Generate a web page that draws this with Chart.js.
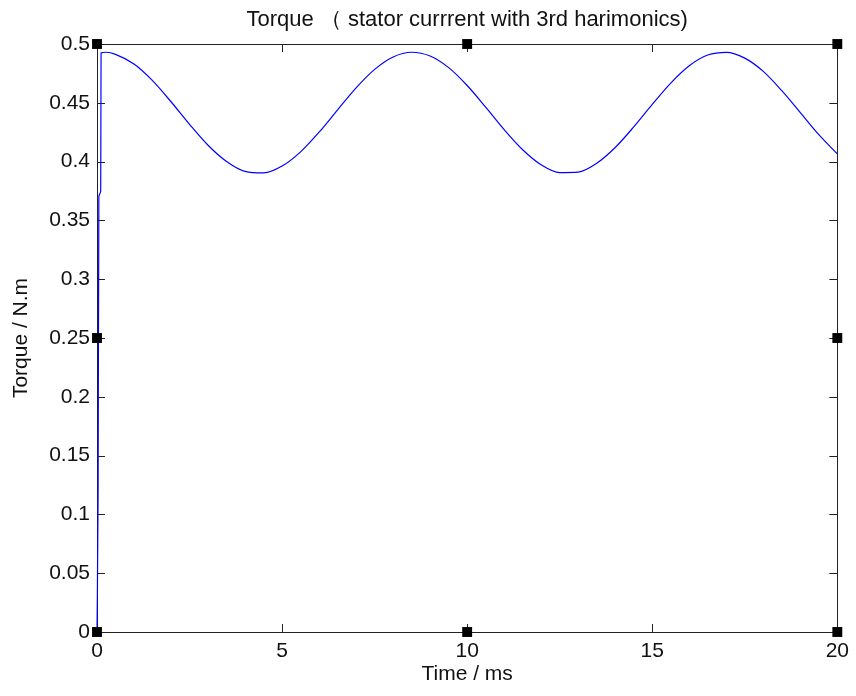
<!DOCTYPE html>
<html>
<head>
<meta charset="utf-8">
<title>Torque</title>
<script src="https://cdn.jsdelivr.net/npm/chart.js@4/dist/chart.umd.min.js"></script>
<style>
    html, body { margin: 0; padding: 0; background: #fff; }
    canvas { display: block; }
</style>
</head>
<body>
<canvas id="torque" width="856" height="696"></canvas>
<script>
'use strict';

// Torque samples: time in ms, torque in N.m
const timeMs = [
    0, 0.03, 0.05, 0.1, 0.11, 0.25, 0.5, 1, 1.5, 2, 2.5, 3, 3.5, 4, 4.5, 5, 5.5, 6, 6.5, 7, 7.5,
    8, 8.5, 9, 9.5, 10, 10.5, 11, 11.5, 12, 12.5, 13, 13.5, 14, 14.5, 15, 15.5, 16, 16.5,
    17, 17.5, 18, 18.5, 19, 19.5, 20
];
const torqueNm = [
    0, 0.12, 0.37, 0.375, 0.4925, 0.4930, 0.4912, 0.4829, 0.4688, 0.4509, 0.4317, 0.4139, 0.4001,
    0.3917, 0.3904, 0.3962, 0.4083, 0.4250, 0.4440, 0.4627, 0.4784, 0.4890, 0.4930, 0.4898,
    0.4799, 0.4647, 0.4463, 0.4272, 0.4101, 0.3973, 0.3907, 0.3911, 0.3986, 0.4120, 0.4295,
    0.4486, 0.4668, 0.4815, 0.4906, 0.4929, 0.4880, 0.4767, 0.4603, 0.4417, 0.4229, 0.4066
];

// axis ticks
const xTicks = [0, 5, 10, 15, 20];
const yTicks = [0, 0.05, 0.1, 0.15, 0.2, 0.25, 0.3, 0.35, 0.4, 0.45, 0.5];

// figure-editor selection handles around the axes
const handleX = [0, 10, 20, 0, 20, 0, 10, 20];
const handleY = [0.5, 0.5, 0.5, 0.25, 0.25, 0, 0, 0];

const FONT = "'Liberation Sans', Arial, sans-serif";
const TICK_LEN = 8;

// box around the plot with inward ticks on all four sides
const axesBox = {
    id: 'axesBox',
    beforeDatasetsDraw(chart) {
        const { ctx, chartArea: a, scales: { x, y } } = chart;
        ctx.save();
        ctx.strokeStyle = '#222';
        ctx.lineWidth = 1;
        ctx.beginPath();
        ctx.rect(Math.round(a.left) + 0.5, Math.round(a.top) + 0.5,
                 Math.round(a.right - a.left), Math.round(a.bottom - a.top));
        x.ticks.forEach(t => {
            const px = Math.round(x.getPixelForValue(t.value)) + 0.5;
            ctx.moveTo(px, a.bottom); ctx.lineTo(px, a.bottom - TICK_LEN);
            ctx.moveTo(px, a.top); ctx.lineTo(px, a.top + TICK_LEN);
        });
        y.ticks.forEach(t => {
            const py = Math.round(y.getPixelForValue(t.value)) + 0.5;
            ctx.moveTo(a.left, py); ctx.lineTo(a.left + TICK_LEN, py);
            ctx.moveTo(a.right, py); ctx.lineTo(a.right - TICK_LEN, py);
        });
        ctx.stroke();
        ctx.restore();
    }
};

Chart.defaults.font.family = FONT;
Chart.defaults.color = '#111';

new Chart(document.getElementById('torque'), {
    type: 'line',
    data: {
        datasets: [
            {
                label: 'Torque',
                data: timeMs.map((t, i) => ({ x: t, y: torqueNm[i] })),
                borderColor: '#0000ff',
                borderWidth: 1.2,
                pointRadius: 0,
                cubicInterpolationMode: 'monotone',
                clip: false,
                order: 2,
            },
            {
                label: 'handles',
                type: 'scatter',
                data: handleX.map((hx, i) => ({ x: hx, y: handleY[i] })),
                pointStyle: 'rect',
                pointRadius: 7,
                pointBackgroundColor: '#000',
                pointBorderWidth: 0,
                clip: false,
                order: 1,
            },
        ],
    },
    options: {
        responsive: false,
        animation: false,
        events: [],
        layout: { autoPadding: false, padding: { left: 0, right: 17, top: 0, bottom: 0 } },
        plugins: {
            legend: { display: false },
            tooltip: { enabled: false },
            title: {
                display: true,
                fullSize: false,
                text: 'Torque （ stator currrent with 3rd harimonics)',
                font: { size: 22, weight: 'normal', family: FONT },
                color: '#111',
                padding: { top: 6.3, bottom: 11.3 },
            },
        },
        scales: {
            x: {
                type: 'linear',
                min: 0,
                max: 20,
                afterFit: s => { s.height = 64; },
                afterBuildTicks: s => { s.ticks = xTicks.map(v => ({ value: v })); },
                grid: { display: false, drawTicks: false },
                border: { display: false },
                ticks: { font: { size: 21 }, padding: 7, maxRotation: 0 },
                title: {
                    display: true,
                    text: 'Time / ms',
                    font: { size: 21 },
                    padding: { top: 0, bottom: 9 },
                },
            },
            y: {
                type: 'linear',
                min: 0,
                max: 0.5,
                afterFit: s => { s.width = 97; },
                afterBuildTicks: s => { s.ticks = yTicks.map(v => ({ value: v })); },
                grid: { display: false, drawTicks: false },
                border: { display: false },
                ticks: { font: { size: 21 }, padding: 7, callback: v => String(v) },
                title: {
                    display: true,
                    text: 'Torque / N.m',
                    font: { size: 21 },
                    padding: { top: 9, bottom: 0 },
                },
            },
        },
    },
    plugins: [axesBox],
});
</script>
</body>
</html>
